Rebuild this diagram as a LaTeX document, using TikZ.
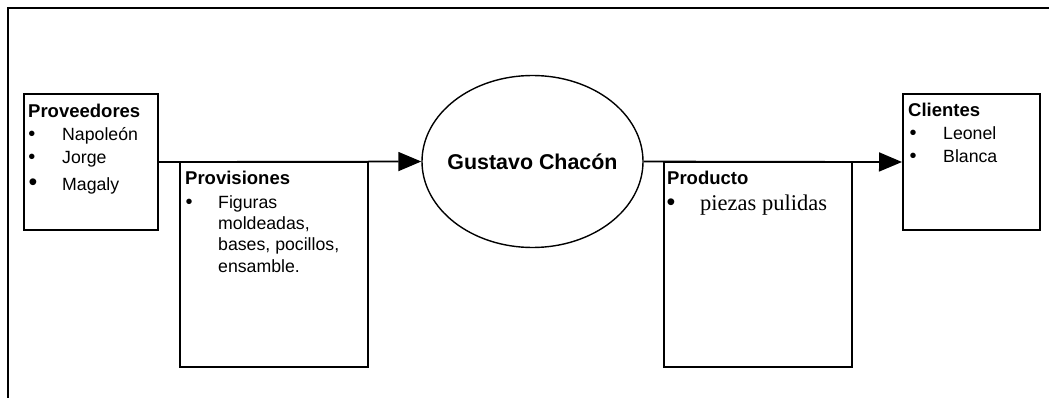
\documentclass[tikz,border=0pt]{standalone}
\usepackage{fontspec}
\setmainfont{Liberation Sans}
\newfontfamily\timesfont{Liberation Serif}
\usetikzlibrary{shapes.geometric,arrows.meta}

\tikzset{
  box/.style={draw, line width=2pt, rectangle, inner sep=0pt},
  hdr/.style={anchor=base west, inner sep=0pt, font=\fontsize{18.5}{22}\selectfont\bfseries},
  itm/.style={anchor=base west, inner sep=0pt, font=\fontsize{17.7}{20}\selectfont},
  bul/.style={anchor=base, inner sep=0pt, font=\fontsize{20}{22}\selectfont},
  bigbul/.style={anchor=base, inner sep=0pt, font=\fontsize{25}{28}\selectfont},
  flow/.style={line width=1.7pt, -{Triangle[length=23pt,width=19pt]}},
  frame/.style={line width=2pt},
}

\begin{document}
\begin{tikzpicture}[x=1pt, y=-1pt]
\useasboundingbox (0,0) rectangle (1049,398);

% outer frame (top and left edges)
\coordinate (fbl) at (8,398);
\coordinate (ftl) at (8,8);
\coordinate (ftr) at (1049,8);
\draw[frame] (fbl) -- (ftl) -- (ftr);

% boxes and the central process
\node[box, minimum width=134pt, minimum height=136pt] (prov) at (91,162) {};
\node[box, minimum width=188pt, minimum height=205pt] (prvs) at (274,264.5) {};
\node[box, minimum width=188pt, minimum height=205pt] (prod) at (758,264.5) {};
\node[box, minimum width=137pt, minimum height=136pt] (cli) at (971.5,162) {};
\node[draw, ellipse, line width=1.4pt, minimum width=221pt, minimum height=172pt, inner sep=0pt] (gus) at (532.5,161.5) {};
\node[anchor=base, inner sep=0pt, font=\fontsize{21.4}{24}\selectfont\bfseries] (gustxt) at (532.5,170) {Gustavo Chacón};

% connectors
\draw[flow] (prov.east) -- (gus.west);
\draw[flow] (gus.east) -- (cli.west);

% Proveedores
\node[hdr] (prov-h) at (28,118) {Proveedores};
\node[bul] (prov-b1) at (32,141) {•};
\node[itm] (prov-1) at (62,141) {Napoleón};
\node[bul] (prov-b2) at (32,164) {•};
\node[itm] (prov-2) at (62,164) {Jorge};
\node[bigbul] (prov-b3) at (33,190) {•};
\node[itm] (prov-3) at (62,190) {Magaly};

% Provisiones
\node[hdr] (prvs-h) at (185,185) {Provisiones};
\node[bul] (prvs-b1) at (189,208) {•};
\node[itm] (prvs-1) at (218,208) {Figuras};
\node[itm] (prvs-2) at (218,229.5) {moldeadas,};
\node[itm] (prvs-3) at (218,251) {bases, pocillos,};
\node[itm] (prvs-4) at (218,272.5) {ensamble.};

% Producto
\node[hdr] (prod-h) at (667,185) {Producto};
\node[bigbul] (prod-b1) at (671,211) {•};
\node[itm, font=\fontsize{22.5}{26}\timesfont] (prod-1) at (700,211) {piezas pulidas};

% Clientes
\node[hdr] (cli-h) at (908,117) {Clientes};
\node[bul] (cli-b1) at (913,140) {•};
\node[itm] (cli-1) at (943,140) {Leonel};
\node[bul] (cli-b2) at (913,163) {•};
\node[itm] (cli-2) at (943,163) {Blanca};
\end{tikzpicture}
\end{document}
